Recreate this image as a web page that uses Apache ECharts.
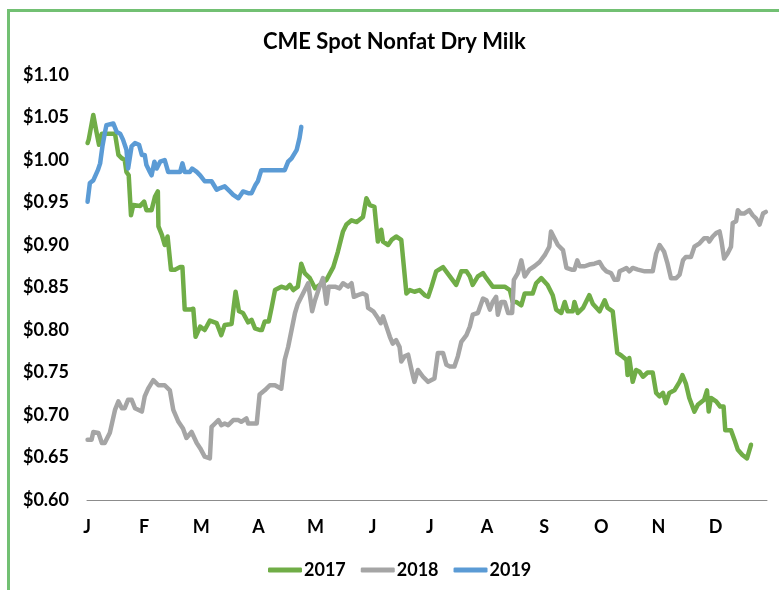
<!DOCTYPE html>
<html>
<head>
<meta charset="utf-8">
<script src="https://cdn.jsdelivr.net/npm/echarts@6/dist/echarts.min.js"></script>
<style>
  html, body { margin: 0; padding: 0; background: #fff; }
  #chart { width: 779px; height: 590px; }
</style>
</head>
<body>
<div id="chart"></div>
<script>
// month letters for the x axis (position = months since Jan 1)
const monthLabels = ['J', 'F', 'M', 'A', 'M', 'J', 'J', 'A', 'S', 'O', 'N', 'D'];
const yTicks = { min: 0.60, max: 1.10, step: 0.05 };

// [month, $/lb]
const nfdm2017 = [
  [0.01, 1.020], [0.03, 1.024], [0.11, 1.053], [0.16, 1.035], [0.21, 1.018], [0.26, 1.031],
  [0.49, 1.031], [0.55, 1.006], [0.61, 1.002], [0.66, 1.000], [0.69, 0.986], [0.73, 0.982],
  [0.77, 0.935], [0.81, 0.947], [0.93, 0.946], [1.00, 0.951], [1.04, 0.941], [1.13, 0.941],
  [1.19, 0.957], [1.24, 0.963], [1.25, 0.922], [1.31, 0.912], [1.36, 0.900], [1.41, 0.910],
  [1.47, 0.871], [1.54, 0.871], [1.63, 0.874], [1.67, 0.874], [1.71, 0.824], [1.80, 0.824],
  [1.86, 0.825], [1.90, 0.792], [1.98, 0.804], [2.06, 0.800], [2.15, 0.811], [2.27, 0.808],
  [2.35, 0.794], [2.41, 0.806], [2.53, 0.807], [2.60, 0.845], [2.66, 0.822], [2.73, 0.820],
  [2.82, 0.809], [2.88, 0.812], [2.94, 0.802], [3.02, 0.800], [3.06, 0.800], [3.11, 0.810],
  [3.18, 0.810], [3.23, 0.826], [3.29, 0.847], [3.40, 0.851], [3.49, 0.849], [3.55, 0.853],
  [3.61, 0.847], [3.69, 0.851], [3.75, 0.878], [3.81, 0.867], [3.90, 0.861], [3.99, 0.849],
  [4.07, 0.853], [4.19, 0.859], [4.31, 0.874], [4.39, 0.892], [4.48, 0.916], [4.54, 0.924],
  [4.63, 0.929], [4.72, 0.927], [4.83, 0.933], [4.89, 0.955], [4.95, 0.947], [5.03, 0.945],
  [5.09, 0.904], [5.15, 0.918], [5.18, 0.904], [5.27, 0.900], [5.33, 0.906], [5.41, 0.910],
  [5.50, 0.906], [5.59, 0.843], [5.65, 0.847], [5.73, 0.845], [5.82, 0.847], [5.91, 0.841],
  [5.97, 0.839], [6.03, 0.851], [6.11, 0.869], [6.23, 0.874], [6.35, 0.863], [6.46, 0.853],
  [6.55, 0.869], [6.64, 0.869], [6.70, 0.863], [6.75, 0.853], [6.84, 0.863], [6.93, 0.867],
  [6.99, 0.861], [7.10, 0.851], [7.31, 0.851], [7.40, 0.847], [7.45, 0.833], [7.51, 0.833],
  [7.60, 0.829], [7.66, 0.843], [7.80, 0.843], [7.86, 0.855], [7.95, 0.861], [8.06, 0.853],
  [8.15, 0.841], [8.21, 0.824], [8.30, 0.820], [8.36, 0.833], [8.41, 0.822], [8.50, 0.822],
  [8.53, 0.833], [8.59, 0.820], [8.68, 0.826], [8.79, 0.841], [8.85, 0.831], [8.97, 0.822],
  [9.06, 0.835], [9.11, 0.826], [9.20, 0.822], [9.28, 0.773], [9.35, 0.770], [9.44, 0.765],
  [9.46, 0.747], [9.49, 0.767], [9.55, 0.739], [9.61, 0.753], [9.67, 0.751], [9.73, 0.745],
  [9.81, 0.750], [9.90, 0.750], [9.96, 0.726], [10.02, 0.722], [10.08, 0.726], [10.13, 0.714],
  [10.19, 0.726], [10.28, 0.729], [10.37, 0.739], [10.42, 0.747], [10.48, 0.737], [10.54, 0.720],
  [10.63, 0.704], [10.69, 0.712], [10.80, 0.718], [10.85, 0.729], [10.88, 0.704], [10.92, 0.720],
  [11.01, 0.716], [11.08, 0.710], [11.14, 0.710], [11.17, 0.682], [11.27, 0.682], [11.33, 0.671],
  [11.39, 0.659], [11.47, 0.653], [11.55, 0.649], [11.62, 0.665]
];

const nfdm2018 = [
  [0.01, 0.671], [0.08, 0.671], [0.11, 0.680], [0.20, 0.679], [0.26, 0.667], [0.31, 0.667],
  [0.40, 0.679], [0.49, 0.706], [0.55, 0.716], [0.61, 0.708], [0.66, 0.708], [0.72, 0.718],
  [0.78, 0.718], [0.84, 0.708], [0.96, 0.704], [1.01, 0.722], [1.07, 0.731], [1.16, 0.741],
  [1.25, 0.735], [1.36, 0.735], [1.45, 0.729], [1.51, 0.706], [1.60, 0.692], [1.68, 0.684],
  [1.74, 0.673], [1.83, 0.680], [1.92, 0.667], [1.98, 0.661], [2.06, 0.651], [2.15, 0.649],
  [2.18, 0.686], [2.24, 0.690], [2.30, 0.694], [2.35, 0.688], [2.41, 0.690], [2.47, 0.688],
  [2.56, 0.694], [2.65, 0.694], [2.70, 0.692], [2.79, 0.696], [2.82, 0.690], [2.97, 0.690],
  [3.02, 0.724], [3.11, 0.729], [3.20, 0.735], [3.29, 0.735], [3.40, 0.731], [3.46, 0.765],
  [3.52, 0.780], [3.58, 0.800], [3.64, 0.820], [3.69, 0.831], [3.72, 0.833], [3.78, 0.843],
  [3.84, 0.851], [3.87, 0.855], [3.90, 0.841], [3.94, 0.822], [3.99, 0.835], [4.07, 0.851],
  [4.13, 0.861], [4.16, 0.859], [4.19, 0.831], [4.23, 0.851], [4.34, 0.851], [4.42, 0.849],
  [4.48, 0.855], [4.57, 0.851], [4.63, 0.855], [4.67, 0.839], [4.74, 0.841], [4.83, 0.843],
  [4.89, 0.841], [4.92, 0.826], [5.01, 0.822], [5.09, 0.814], [5.14, 0.808], [5.18, 0.816],
  [5.24, 0.804], [5.30, 0.792], [5.35, 0.784], [5.41, 0.788], [5.47, 0.780], [5.50, 0.763],
  [5.56, 0.769], [5.62, 0.771], [5.68, 0.753], [5.73, 0.739], [5.79, 0.753], [5.88, 0.745],
  [5.97, 0.739], [6.08, 0.743], [6.14, 0.773], [6.23, 0.773], [6.29, 0.759], [6.35, 0.757],
  [6.43, 0.757], [6.49, 0.769], [6.55, 0.786], [6.64, 0.794], [6.70, 0.804], [6.75, 0.818],
  [6.84, 0.820], [6.93, 0.837], [6.99, 0.835], [7.05, 0.824], [7.10, 0.833], [7.16, 0.839],
  [7.19, 0.818], [7.25, 0.833], [7.31, 0.833], [7.37, 0.820], [7.44, 0.820], [7.47, 0.859],
  [7.54, 0.867], [7.60, 0.882], [7.66, 0.863], [7.74, 0.871], [7.83, 0.875], [7.92, 0.880],
  [8.01, 0.888], [8.09, 0.898], [8.12, 0.916], [8.18, 0.908], [8.24, 0.900], [8.33, 0.894],
  [8.39, 0.873], [8.48, 0.871], [8.53, 0.871], [8.58, 0.882], [8.62, 0.875], [8.71, 0.875],
  [8.79, 0.877], [8.88, 0.878], [8.97, 0.880], [9.03, 0.873], [9.09, 0.869], [9.17, 0.867],
  [9.23, 0.859], [9.29, 0.859], [9.32, 0.869], [9.38, 0.871], [9.44, 0.873], [9.49, 0.869],
  [9.55, 0.873], [9.64, 0.871], [9.76, 0.869], [9.90, 0.869], [9.96, 0.890], [10.02, 0.900],
  [10.10, 0.892], [10.16, 0.878], [10.22, 0.861], [10.31, 0.861], [10.37, 0.865], [10.43, 0.882],
  [10.48, 0.886], [10.57, 0.886], [10.63, 0.898], [10.72, 0.902], [10.80, 0.908], [10.86, 0.908],
  [10.89, 0.904], [10.95, 0.910], [11.01, 0.914], [11.07, 0.916], [11.10, 0.906], [11.15, 0.884],
  [11.21, 0.890], [11.27, 0.898], [11.30, 0.926], [11.36, 0.928], [11.39, 0.941], [11.44, 0.937],
  [11.50, 0.937], [11.53, 0.935], [11.59, 0.941], [11.65, 0.935], [11.71, 0.931], [11.77, 0.924],
  [11.83, 0.937], [11.88, 0.939]
];

const nfdm2019 = [
  [0.01, 0.951], [0.05, 0.973], [0.11, 0.976], [0.19, 0.988], [0.23, 0.996], [0.27, 1.016],
  [0.31, 1.031], [0.34, 1.041], [0.46, 1.043], [0.52, 1.033], [0.58, 1.031], [0.63, 1.024],
  [0.69, 1.012], [0.72, 0.990], [0.78, 1.016], [0.84, 1.020], [0.91, 1.018], [0.96, 1.006],
  [1.01, 1.006], [1.04, 0.994], [1.10, 0.986], [1.13, 0.982], [1.18, 0.998], [1.22, 0.990],
  [1.28, 0.998], [1.36, 1.000], [1.42, 0.986], [1.63, 0.986], [1.67, 0.996], [1.71, 0.986],
  [1.80, 0.986], [1.84, 0.990], [1.92, 0.986], [1.98, 0.982], [2.06, 0.975], [2.18, 0.975],
  [2.27, 0.965], [2.33, 0.967], [2.41, 0.969], [2.50, 0.963], [2.56, 0.959], [2.65, 0.955],
  [2.73, 0.963], [2.82, 0.961], [2.88, 0.961], [2.95, 0.971], [2.99, 0.975], [3.05, 0.988],
  [3.46, 0.988], [3.52, 0.998], [3.58, 1.002], [3.67, 1.012], [3.72, 1.026], [3.75, 1.039]
];

const font = 'Lato, "Open Sans", sans-serif';
const chart = echarts.init(document.getElementById('chart'));

const lineSeries = (name, data, color) => ({
  name, type: 'line', data, symbol: 'none', silent: true,
  lineStyle: { color, width: 4.5, cap: 'round', join: 'round' },
  itemStyle: { color },
});

chart.setOption({
  animation: false,
  title: {
    text: 'CME Spot Nonfat Dry Milk', left: 258, top: 26,
    textStyle: { fontFamily: font, fontSize: 22, fontWeight: 'bold', color: '#000' },
  },
  graphic: [{
    type: 'rect', shape: { x: 8.5, y: 10.5, width: 820, height: 620 },
    style: { fill: 'none', stroke: '#72c073', lineWidth: 3 }, silent: true,
  }],
  legend: {
    left: 263, top: 556, itemWidth: 34, itemHeight: 5, itemGap: 15, icon: 'roundRect',
    textStyle: { fontFamily: font, fontSize: 18, fontWeight: 'bold', color: '#000', padding: [0, 0, 0, -3] },
    data: ['2017', '2018', '2019'],
  },
  grid: { left: 87, right: 12, top: 75, bottom: 90 },
  xAxis: {
    type: 'value', min: 0, max: 11.9, interval: 1,
    axisLine: { show: true, lineStyle: { color: '#8c8c8c', width: 1 } },
    axisTick: { show: false }, splitLine: { show: false },
    axisLabel: {
      margin: 18, showMaxLabel: false, fontFamily: font, fontSize: 18, fontWeight: 'bold', color: '#000',
      formatter: v => monthLabels[Math.round(v)] || '',
    },
  },
  yAxis: {
    type: 'value', min: yTicks.min, max: yTicks.max, interval: yTicks.step,
    axisLine: { show: false }, axisTick: { show: false }, splitLine: { show: false },
    axisLabel: {
      margin: 18, fontFamily: font, fontSize: 18, fontWeight: 'bold', color: '#000',
      formatter: v => '$' + v.toFixed(2),
    },
  },
  series: [
    lineSeries('2017', nfdm2017, '#70ad47'),
    lineSeries('2018', nfdm2018, '#a5a5a5'),
    lineSeries('2019', nfdm2019, '#5b9bd5'),
  ],
});
</script>
</body>
</html>
